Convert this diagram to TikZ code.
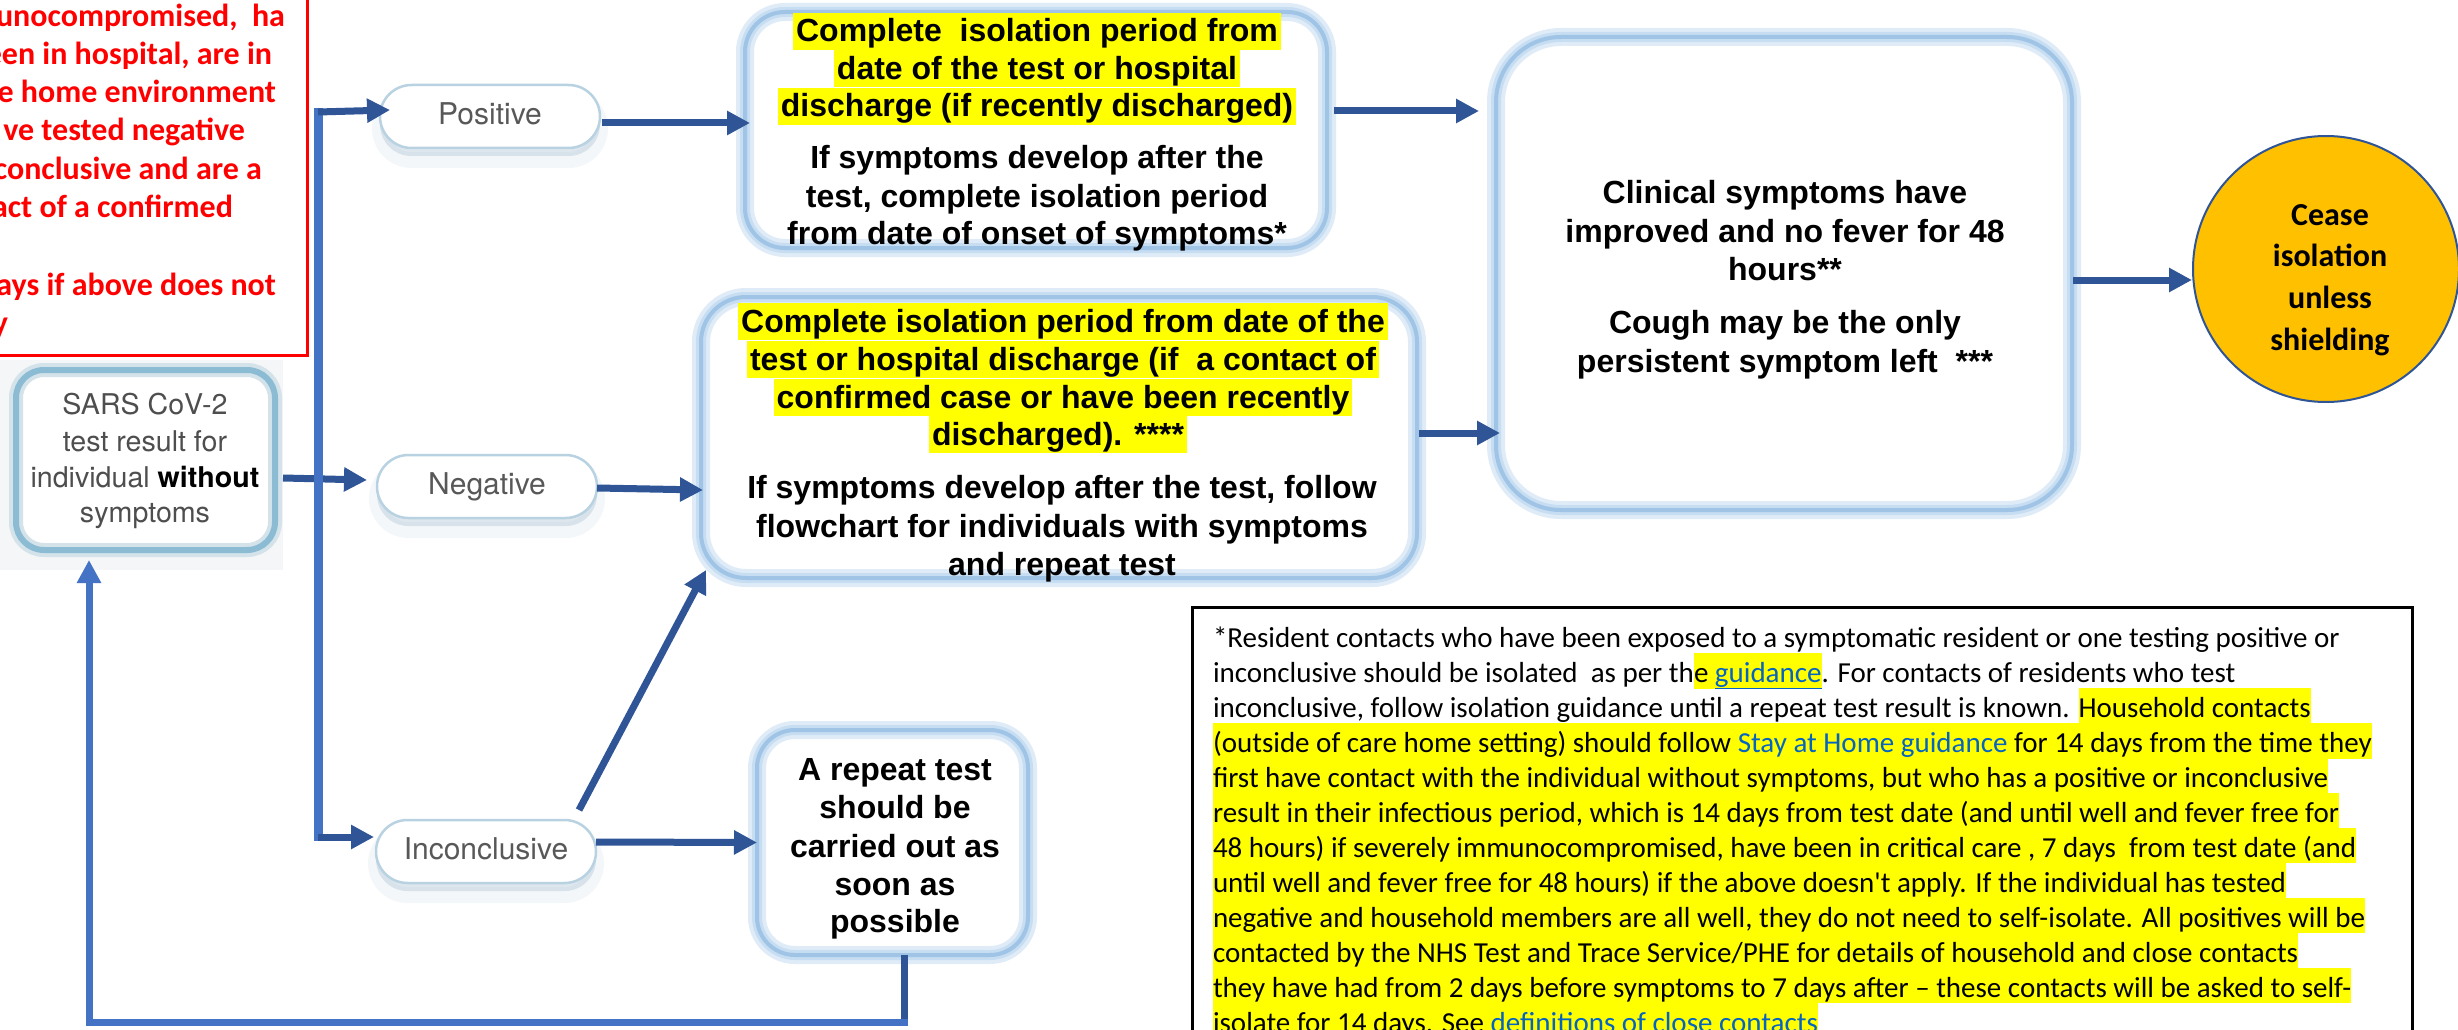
\documentclass[tikz,border=0pt]{standalone}
\usepackage{fontspec}
\setmainfont{Liberation Sans}
\newfontfamily\calfont{Carlito}
\newfontfamily\helvfont{TeX Gyre Heros}
\usetikzlibrary{arrows.meta,calc}
\definecolor{arrowblue}{RGB}{47,85,151}
\definecolor{trunkblue}{RGB}{68,114,196}
\definecolor{hlyellow}{RGB}{255,255,0}
\definecolor{ceasefill}{RGB}{255,192,0}
\definecolor{linkblue}{RGB}{5,99,193}
\definecolor{glowA}{RGB}{223,236,248}
\definecolor{glowB}{RGB}{198,221,242}
\definecolor{boxline}{RGB}{160,196,230}
\definecolor{startline}{RGB}{140,188,212}
\definecolor{startglow}{RGB}{212,226,234}
\definecolor{pillline}{RGB}{185,210,226}
\definecolor{pillshadow}{RGB}{150,178,200}
\definecolor{pilltext}{RGB}{88,88,88}
\definecolor{starttext}{RGB}{78,78,78}
\definecolor{faintbg}{RGB}{244,246,247}
\newcommand\hlt[1]{{\setlength{\fboxsep}{0pt}\colorbox{hlyellow}{#1\vrule width 0pt height 29.5pt depth 5.5pt}}}
\newcommand\lnk[1]{\textcolor{linkblue}{\underline{#1}}}
\begin{document}
\begin{tikzpicture}[x=1pt,y=-1pt,
  every node/.style={inner sep=0pt,outer sep=0pt},
  bt/.style={font=\fontsize{32}{37.5}\selectfont\bfseries, anchor=base},
  hl/.style={bt, fill=hlyellow, text height=29pt, text depth=8pt, inner xsep=3pt},
  redtxt/.style={font=\calfont\bfseries\fontsize{32}{38}\selectfont, text=red, anchor=base east},
  notetxt/.style={font=\calfont\fontsize{29}{35}\selectfont, anchor=base west},
  sttxt/.style={font=\helvfont\fontsize{28.6}{36}\selectfont, text=starttext, anchor=base},
  glowbox/.style={rectangle, rounded corners=#1, preaction={fill=white},
    preaction={draw=glowA, line width=18pt}, preaction={draw=glowB, line width=10pt},
    draw=boxline, line width=4pt},
  startbox/.style={rectangle, rounded corners=28pt, preaction={fill=white},
    preaction={draw=startglow, line width=14pt}, draw=startline, line width=6pt},
  pill/.style={rectangle, rounded corners=31.5pt, minimum width=220pt, minimum height=63pt,
    preaction={draw=pillshadow, draw opacity=0.10, line width=16pt, transform canvas={yshift=-12pt}},
    preaction={fill=pillshadow, fill opacity=0.30, transform canvas={yshift=-8pt}},
    fill=white, draw=pillline, line width=2.5pt, text=pilltext,
    font=\helvfont\fontsize{30}{36}\selectfont, text height=22pt, text depth=6pt},
  arr/.style={draw=arrowblue, line width=7pt, -{Triangle[length=23pt,width=23pt]}},
  trunk/.style={draw=trunkblue, line width=9pt}
]
\useasboundingbox (0,0) rectangle (2458,1030);
\clip (0,0) rectangle (2458,1030);
\fill[white] (0,0) rectangle (2458,1030);

% red note box (cut at left and top)
\node[draw=red, line width=3pt, anchor=south east, minimum width=340pt, minimum height=380pt] (redbox) at (307,355) {};
\node[redtxt] (r1) at (285,27) {unocompromised,\ \ ha};
\node[redtxt] (r2) at (272,65) {een in hospital, are in};
\node[redtxt] (r3) at (276,103) {e home environment};
\node[redtxt] (r4) at (245,141) {ve tested negative};
\node[redtxt] (r5) at (262,179) {conclusive and are a};
\node[redtxt] (r6) at (233,217) {act of a confirmed};
\node[redtxt] (r7) at (276,295) {ays if above does not};
\node[redtxt] (r8) at (8,333) {y};

% start node
\fill[faintbg] (0,360) rectangle (283,570);
\node[startbox, minimum width=259pt, minimum height=180pt] (start) at (145.5,460) {};
\node[sttxt] (s1) at (145,414) {SARS CoV-2};
\node[sttxt] (s2) at (145,451) {test result for};
\node[sttxt] (s3) at (145,487) {individual {\bfseries\color{black}without}};
\node[sttxt] (s4) at (145,522) {symptoms};

% pills
\node[pill] (pos) at (490,116.5) {Positive};
\node[pill] (neg) at (487,486.5) {Negative};
\node[pill] (incon) at (486,851.5) {Inconclusive};

% boxes
\node[glowbox=40pt, minimum width=582pt, minimum height=236pt] (box1) at (1036,130) {};
\node[glowbox=45pt, minimum width=716pt, minimum height=281pt] (box2) at (1059,437.5) {};
\node[glowbox=65pt, minimum width=576pt, minimum height=473pt] (box3) at (1784,273.5) {};
\node[glowbox=38pt, minimum width=271pt, minimum height=225pt] (rep) at (892.5,842.5) {};
\node[circle, fill=ceasefill, draw=arrowblue, line width=2pt, minimum size=266pt] (cease) at (2326,269) {};

% box 1 text
\node[hl] (b1a) at (1037,42) {Complete\ \ isolation period from};
\node[hl] (b1b) at (1037,79.5) {date of the test or hospital};
\node[hl] (b1c) at (1037,117) {discharge (if recently discharged)};
\node[bt] (b1d) at (1037,168) {If symptoms develop after the};
\node[bt] (b1e) at (1037,207) {test, complete isolation period};
\node[bt] (b1f) at (1037,244) {from date of onset of symptoms*};

% box 2 text
\node[hl] (b2a) at (1063,332) {Complete isolation period from date of the};
\node[hl] (b2b) at (1063,370) {test or hospital discharge (if\ \ a contact of};
\node[hl] (b2c) at (1063,408) {confirmed case or have been recently};
\node[hl] (b2d) at (1058,445) {discharged). ****};
\node[bt] (b2e) at (1062,498) {If symptoms develop after the test, follow};
\node[bt] (b2f) at (1062,537) {flowchart for individuals with symptoms};
\node[bt] (b2g) at (1062,575) {and repeat test};

% box 3 text
\node[bt] (b3a) at (1785,203) {Clinical symptoms have};
\node[bt] (b3b) at (1785,242) {improved and no fever for 48};
\node[bt] (b3c) at (1785,280) {hours**};
\node[bt] (b3d) at (1785,333) {Cough may be the only};
\node[bt] (b3e) at (1785,372) {persistent symptom left\ \ ***};

% repeat box text
\node[bt] (ra) at (895,780) {A repeat test};
\node[bt] (rb) at (895,818) {should be};
\node[bt] (rc) at (895,857) {carried out as};
\node[bt] (rd) at (895,895) {soon as};
\node[bt] (re) at (895,932) {possible};

% cease text
\node[font=\calfont\bfseries\fontsize{32}{41.7}\selectfont, align=center] (ceasetxt) at (2330,280) {Cease\\isolation\\unless\\shielding};

% footnote box
\node[draw=black, line width=3pt, anchor=north west, minimum width=1220pt, minimum height=450pt] (notebox) at (1192,607) {};
\node[notetxt] (n1) at (1213,647) {*Resident contacts who have been exposed to a symptomatic resident or one testing positive or};
\node[notetxt] (n2) at (1213,682) {inconclusive should be isolated\ \ as per th\hlt{e \lnk{guidance}}. For contacts of residents who test};
\node[notetxt] (n3) at (1213,717) {inconclusive, follow isolation guidance until a repeat test result is known. \hlt{Household contacts}};
\node[notetxt] (n4) at (1213,752) {\hlt{(outside of care home setting) should follow \lnk{Stay at Home guidance} for 14 days from the time they}};
\node[notetxt] (n5) at (1213,787) {\hlt{first have contact with the individual without symptoms, but who has a positive or inconclusive}};
\node[notetxt] (n6) at (1213,822) {\hlt{result in their infectious period, which is 14 days from test date (and until well and fever free for}};
\node[notetxt] (n7) at (1213,857) {\hlt{48 hours) if severely immunocompromised, have been in critical care , 7 days\ \ from test date (and}};
\node[notetxt] (n8) at (1213,892) {\hlt{until well and fever free for 48 hours) if the above doesn't apply. If the individual has tested}};
\node[notetxt] (n9) at (1213,927) {\hlt{negative and household members are all well, they do not need to self-isolate. All positives will be}};
\node[notetxt] (n10) at (1213,962) {\hlt{contacted by the NHS Test and Trace Service/PHE for details of household and close contacts}};
\node[notetxt] (n11) at (1213,997) {\hlt{they have had from 2 days before symptoms to 7 days after – these contacts will be asked to self-}};
\node[notetxt] (n12) at (1213,1032) {\hlt{isolate for 14 days. See \lnk{definitions of close contacts}}};

% connectors
\coordinate (ttop) at (318,108);
\coordinate (tbot) at (318,841);
\draw[arr] ($(start.east)+(8,18)$) -- ($(neg.west)+(-10,-6.5)$);
\draw[trunk] (ttop) -- (tbot);
\draw[arr] ($(ttop)+(0,4)$) -- ($(pos.west)+(10,-6.5)$);
\draw[arr] ($(tbot)+(0,-4)$) -- ($(incon.west)+(-2,-14.5)$);
\draw[arr] ($(pos.east)+(2,6.5)$) -- ($(pos.east -| box1.west)+(5,6.5)$);
\draw[arr] ($(neg.east)+(0,1.5)$) -- ($(neg.east -| box2.west)+(2,3.5)$);
\draw[arr] ($(incon.north)+(93,-10)$) -- ($(box2.south west)+(5,-8)$);
\draw[arr] ($(incon.east)+(0,-9.5)$) -- (rep.west);
\draw[arr] ($(box1.east)+(7,-19)$) -- ($(box1.east -| box3.west)+(-17,-19)$);
\draw[arr] ($(box2.east)+(2,-4.5)$) -- ($(box2.east -| box3.west)+(4,-4.5)$);
\draw[arr] ($(box3.east)+(1,6.5)$) -- ($(box3.east -| cease.west)+(-1,6.5)$);
\coordinate (fb1) at (904,1022);
\coordinate (fb2) at (89,1022);
\draw[draw=arrowblue, line width=7pt] ($(rep.south)+(11.5,0)$) -- ($(fb1)+(0,3.5)$);
\draw[draw=trunkblue, line width=7pt, -{Triangle[length=23pt,width=23pt]}] ($(fb1)+(3.5,0)$) -- (fb2) -- ($(start.south -| fb2)+(0,10)$);
\end{tikzpicture}
\end{document}
